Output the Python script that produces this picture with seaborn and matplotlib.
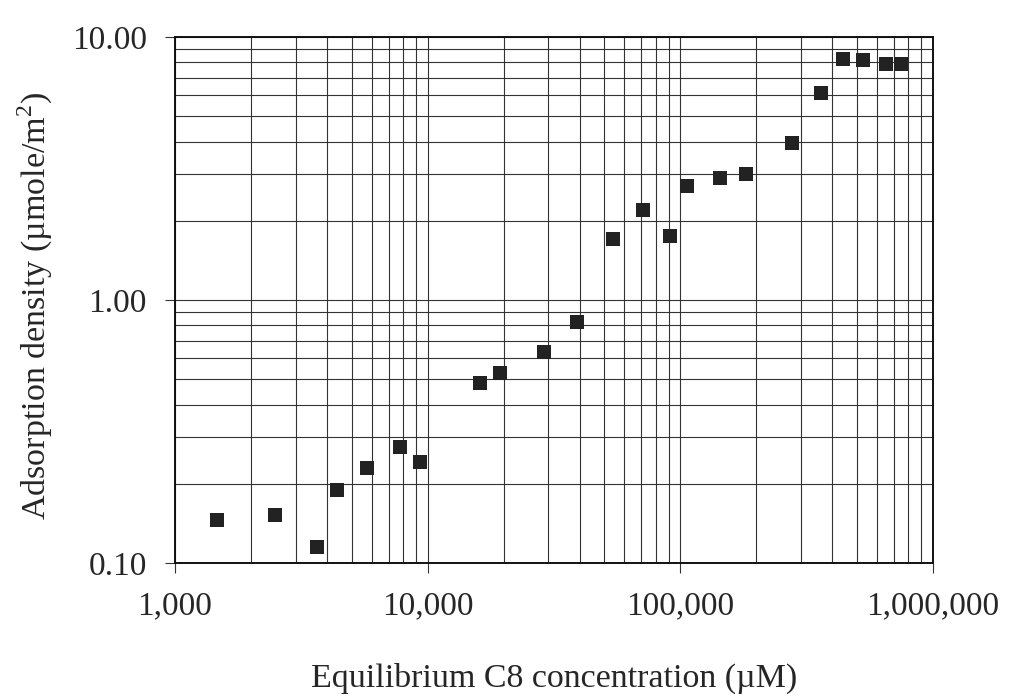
import matplotlib
matplotlib.use("Agg")
import matplotlib.pyplot as plt
import matplotlib.ticker as mticker
import seaborn as sns
import pandas as pd

concentration = [1466, 2489, 3656, 4385, 5768, 7772, 9327, 16107, 19320, 28950,
                 38900, 53950, 71100, 90800, 106200, 143100, 181400, 276700,
                 359400, 441700, 529600, 649900, 744700]
adsorption = [0.146, 0.152, 0.115, 0.190, 0.229, 0.275, 0.242, 0.483, 0.529, 0.632,
              0.823, 1.711, 2.193, 1.746, 2.714, 2.911, 3.023, 3.942,
              6.137, 8.27, 8.154, 7.89, 7.89]
x_ticks = [1000, 10000, 100000, 1000000]
y_ticks = [0.1, 1.0, 10.0]
x_label = "Equilibrium C8 concentration (\u00b5M)"
y_label = "Adsorption density (\u00b5mole/m$^2$)"

df = pd.DataFrame({"conc": concentration, "ads": adsorption})

sns.set_style("white")
plt.rcParams["font.family"] = ["Liberation Serif", "DejaVu Serif"]
plt.rcParams["mathtext.fontset"] = "custom"
plt.rcParams["mathtext.rm"] = "Liberation Serif"

fig = plt.figure(figsize=(10.11, 6.99), dpi=100)
ax = fig.add_axes([0.1731, 0.1946, 0.7497, 0.7525])

sns.scatterplot(data=df, x="conc", y="ads", marker="s", s=95, color="#222222",
                edgecolor="#222222", linewidth=0, ax=ax, zorder=3)

ax.set_xscale("log")
ax.set_yscale("log")
ax.set_xlim(1000, 1000000)
ax.set_ylim(0.1, 10.0)

ax.xaxis.set_major_locator(mticker.FixedLocator(x_ticks))
ax.yaxis.set_major_locator(mticker.FixedLocator(y_ticks))
ax.xaxis.set_minor_locator(mticker.LogLocator(base=10, subs=range(2, 10)))
ax.yaxis.set_minor_locator(mticker.LogLocator(base=10, subs=range(2, 10)))
ax.xaxis.set_major_formatter(mticker.FuncFormatter(lambda v, p: f"{v:,.0f}"))
ax.yaxis.set_major_formatter(mticker.FuncFormatter(lambda v, p: f"{v:.2f}"))
ax.xaxis.set_minor_formatter(mticker.NullFormatter())
ax.yaxis.set_minor_formatter(mticker.NullFormatter())

ax.grid(True, which="both", color="#333333", linewidth=0.8)
ax.set_axisbelow(True)

ax.tick_params(which="major", direction="out", length=7.2, width=0.8, color="#333333",
               labelsize=24, left=True, bottom=True)
ax.tick_params(which="minor", length=0)
ax.tick_params(axis="y", pad=13)
ax.tick_params(axis="x", pad=13)

for sp in ax.spines.values():
    sp.set_color("#111111")
    sp.set_linewidth(1.4)

ax.set_xlabel(x_label, fontsize=24.5, labelpad=30)
ax.set_ylabel(y_label, fontsize=24.5)
ax.yaxis.set_label_coords(-0.158, 0.489)

fig.savefig("out.png", dpi=100, facecolor="white")
